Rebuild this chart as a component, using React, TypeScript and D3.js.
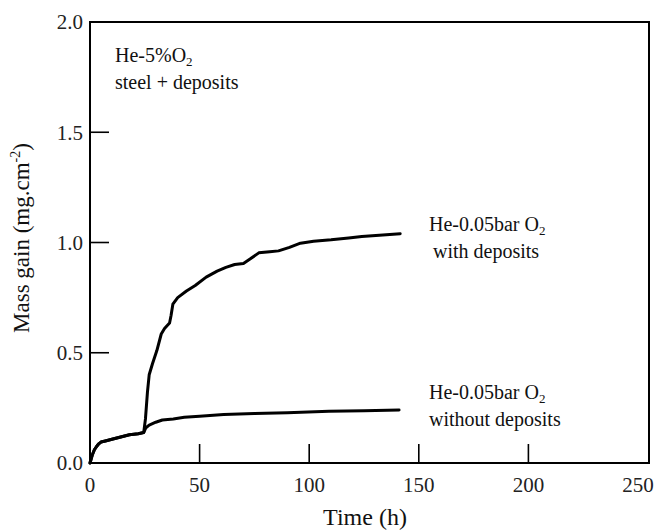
import React from "react";
import * as d3 from "d3";

const withDepositsT = [0, 1, 2, 3, 4, 5, 7, 10, 14, 18, 22, 24.5, 25.3, 26.2, 27, 28.5, 30.5, 32.5, 34, 36.3, 37, 37.8, 40, 44, 48, 53, 58, 62, 66, 70, 73, 77, 82, 86, 91, 96, 102, 110, 118, 124, 132, 141.5];
const withDepositsV = [0, 0.035, 0.06, 0.075, 0.087, 0.095, 0.1, 0.108, 0.118, 0.128, 0.133, 0.138, 0.2, 0.32, 0.4, 0.45, 0.51, 0.585, 0.61, 0.635, 0.67, 0.72, 0.75, 0.78, 0.805, 0.843, 0.87, 0.887, 0.9, 0.905, 0.925, 0.953, 0.958, 0.962, 0.978, 0.997, 1.006, 1.012, 1.02, 1.027, 1.033, 1.04];

const withoutDepositsT = [0, 1, 2, 3, 4, 5, 7, 10, 14, 18, 22, 24.5, 25.5, 27, 30, 33, 38, 43, 50, 61, 75, 90, 109, 125, 141];
const withoutDepositsV = [0, 0.035, 0.06, 0.075, 0.087, 0.095, 0.1, 0.108, 0.118, 0.128, 0.133, 0.138, 0.16, 0.172, 0.185, 0.195, 0.2, 0.207, 0.212, 0.22, 0.225, 0.228, 0.235, 0.237, 0.24];

const xTicks = [0, 50, 100, 150, 200, 250];
const yTicks = [0, 0.5, 1.0, 1.5, 2.0];

const FONT = "'Liberation Serif', 'Times New Roman', serif";

export default function App() {
  const W = 669, H = 530;
  const left = 90, frameRight = 649, top = 22, bottom = 463;
  const x = d3.scaleLinear().domain([0, 250]).range([left, 638]);
  const y = d3.scaleLinear().domain([0, 2]).range([bottom, top]);
  const line = d3.line<[number, number]>().x(d => x(d[0])).y(d => y(d[1]));
  const upper = withDepositsT.map((t, i) => [t, withDepositsV[i]] as [number, number]);
  const lower = withoutDepositsT.map((t, i) => [t, withoutDepositsV[i]] as [number, number]);
  const tickLen = 19;

  return (
    <svg width={W} height={H} style={{ position: "absolute", left: 0, top: 0, background: "#fff" }} fontFamily={FONT}>
      <rect x={0} y={0} width={W} height={H} fill="#fff" />
      <rect x={left} y={top} width={frameRight - left} height={bottom - top} fill="none" stroke="#000" strokeWidth={2} />
      {xTicks.filter(t => t > 0 && t < 250).map(t => (
        <line key={"xt" + t} x1={x(t)} x2={x(t)} y1={bottom} y2={bottom - tickLen} stroke="#000" strokeWidth={1.6} />
      ))}
      {yTicks.filter(t => t > 0 && t < 2).map(t => (
        <line key={"yt" + t} x1={left} x2={left + tickLen} y1={y(t)} y2={y(t)} stroke="#000" strokeWidth={1.6} />
      ))}
      {xTicks.map(t => (
        <text key={"xl" + t} x={x(t)} y={492} textAnchor="middle" fontSize={21} fill="#222">{t}</text>
      ))}
      {yTicks.map(t => (
        <text key={"yl" + t} x={83} y={y(t)} dy="0.35em" textAnchor="end" fontSize={21} fill="#222">{t.toFixed(1)}</text>
      ))}
      <text x={365} y={525} textAnchor="middle" fontSize={24} fill="#111">Time (h)</text>
      <text transform={`translate(29, 238) rotate(-90)`} textAnchor="middle" fontSize={23} fill="#111">
        Mass gain (mg.cm<tspan fontSize={14} dy={-9}>-2</tspan><tspan dy={9}>)</tspan>
      </text>
      <path d={line(lower) || ""} fill="none" stroke="#000" strokeWidth={3} strokeLinejoin="round" strokeLinecap="round" />
      <path d={line(upper) || ""} fill="none" stroke="#000" strokeWidth={3} strokeLinejoin="round" strokeLinecap="round" />
      <text x={115} y={62} fontSize={20} fill="#111">He-5%O<tspan fontSize={13} dy={4}>2</tspan></text>
      <text x={115} y={89} fontSize={20} fill="#111">steel + deposits</text>
      <text x={429} y={231} fontSize={20} fill="#111">He-0.05bar O<tspan fontSize={13} dy={4}>2</tspan></text>
      <text x={433} y={258} fontSize={20} fill="#111">with deposits</text>
      <text x={429} y={399} fontSize={20} fill="#111">He-0.05bar O<tspan fontSize={13} dy={4}>2</tspan></text>
      <text x={429} y={426} fontSize={20} fill="#111">without deposits</text>
    </svg>
  );
}
